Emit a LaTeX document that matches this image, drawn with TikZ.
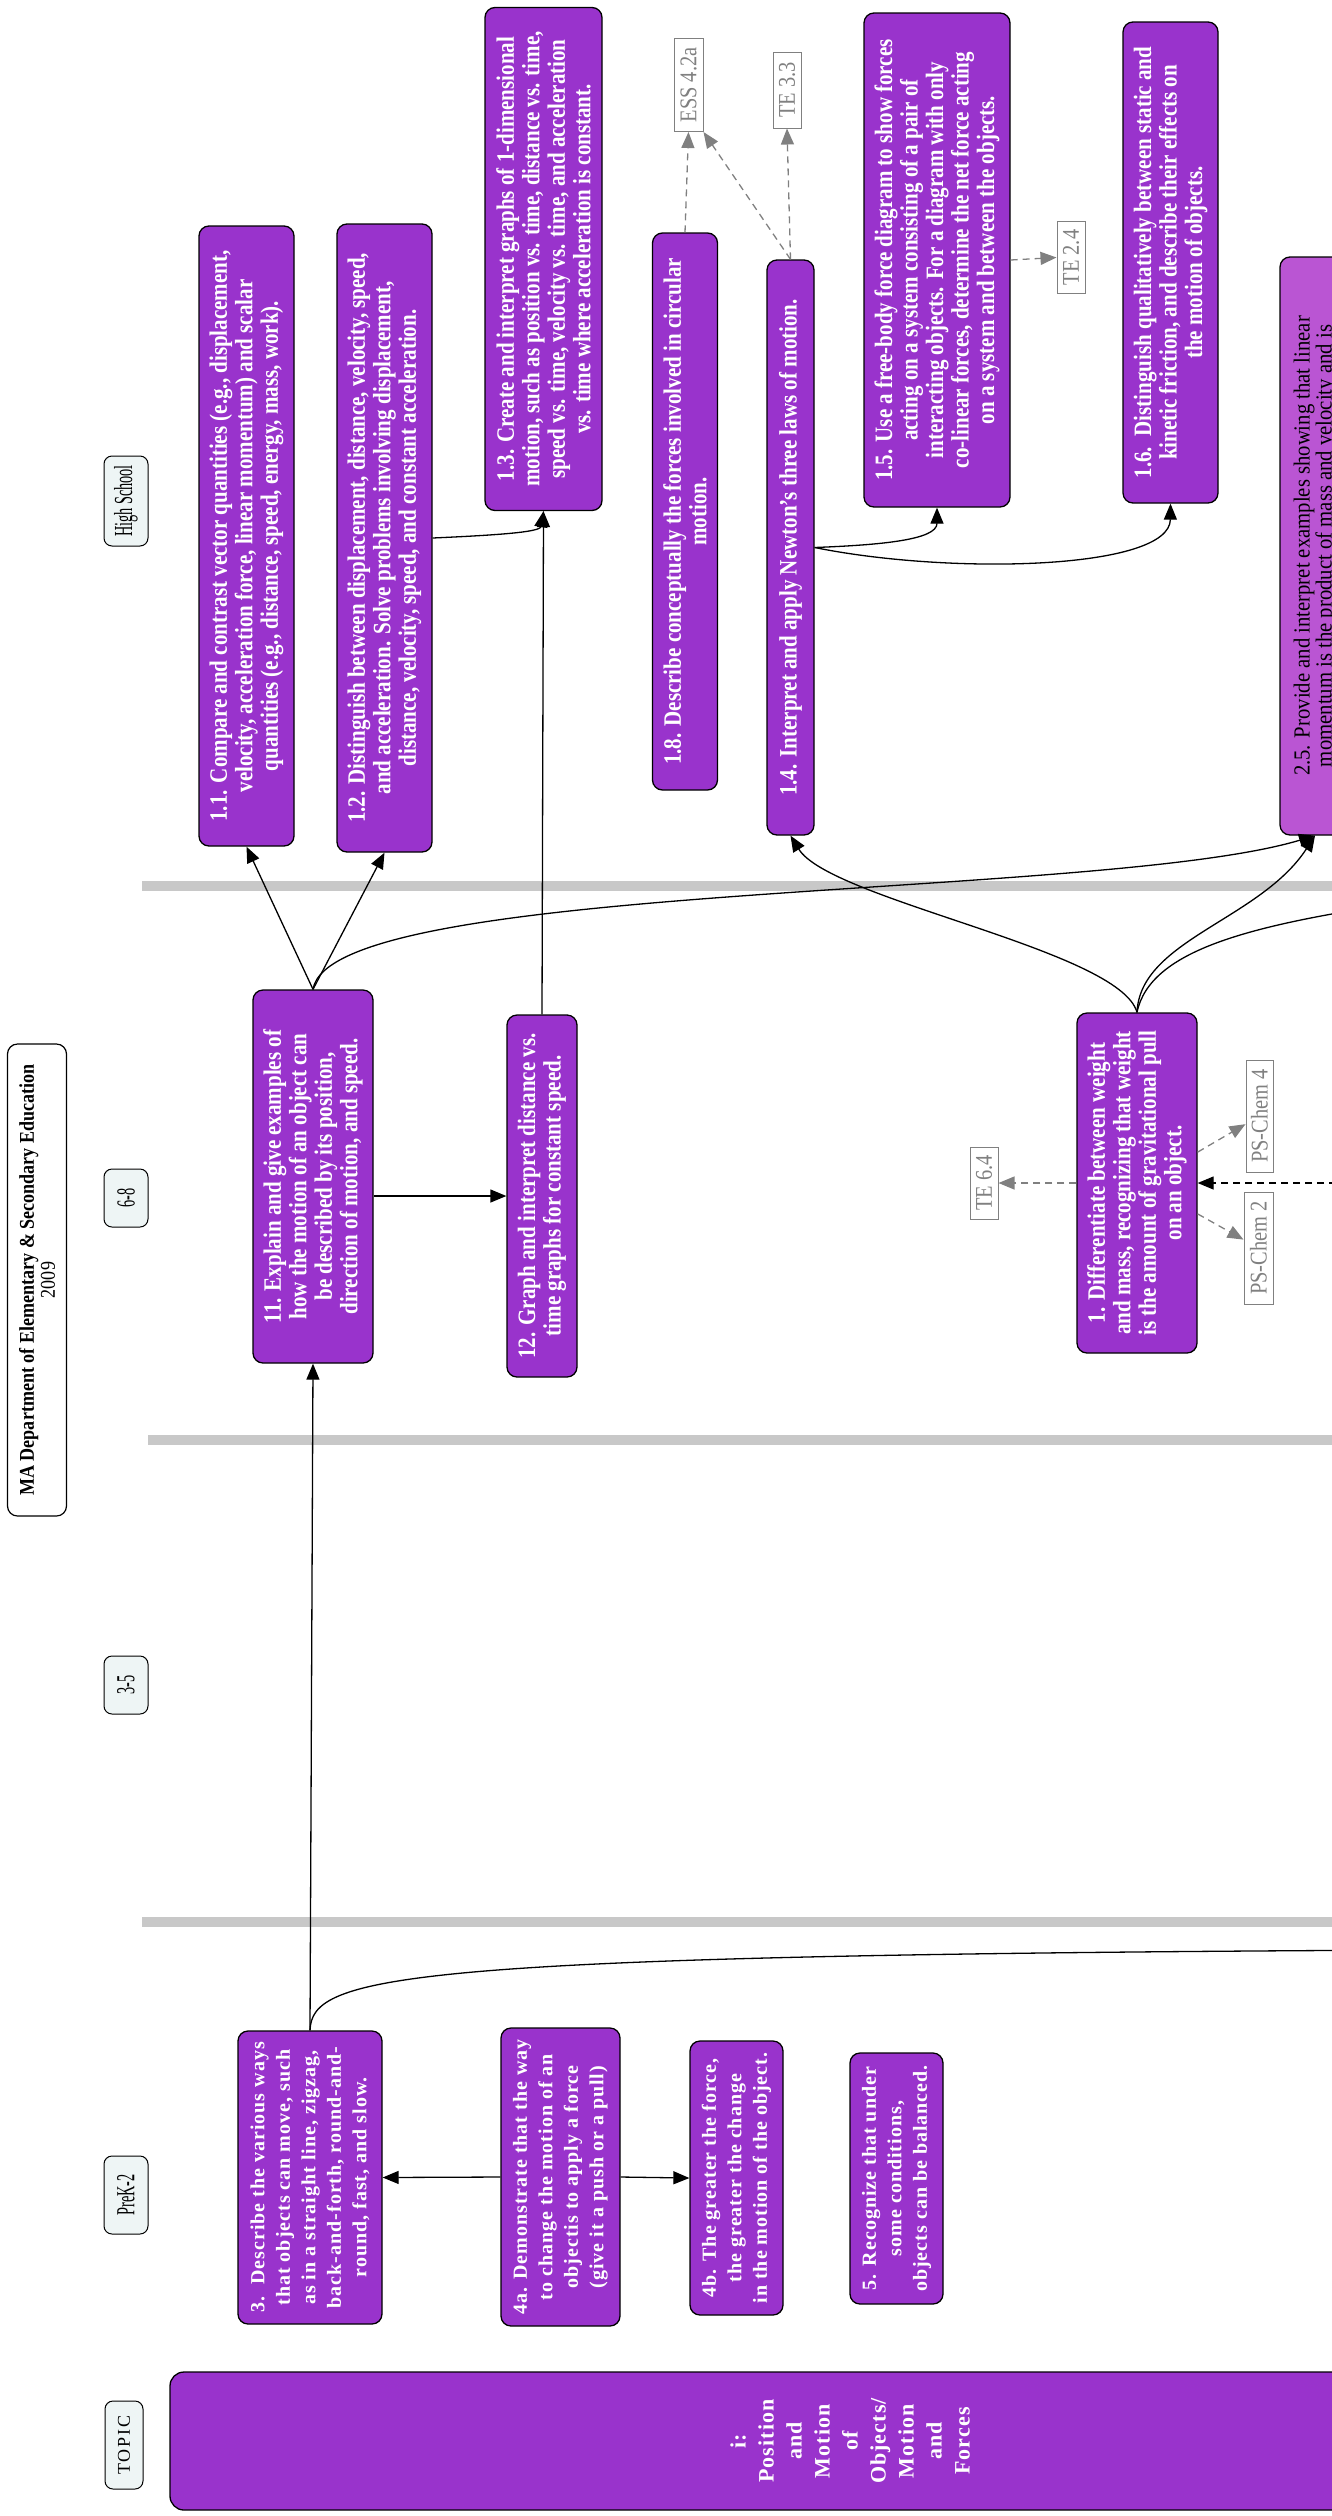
\documentclass[tikz,border=0pt]{standalone}
\usepackage{fontspec}
\setmainfont{Liberation Serif}
\usepackage{tikz}
\usetikzlibrary{arrows.meta}
\definecolor{boxpurple}{HTML}{9933CC}
\definecolor{lightpurple}{HTML}{BA55D3}
\definecolor{refgray}{HTML}{808080}
\definecolor{bargray}{HTML}{C8C8C8}
\definecolor{gradefill}{HTML}{EEF5F5}

\begin{document}
\begin{tikzpicture}[x=1pt,y=-1pt,
  >={Triangle[length=16pt,width=13pt]},
  stdbox/.style={draw=black,line width=1.3pt,fill=boxpurple,rounded corners=10pt,rotate=90,
    text=white,align=center,inner sep=0pt,
    font=\fontsize{25}{25.5}\selectfont\bfseries\addfontfeature{FakeStretch=0.84}},
  kbox/.style={stdbox,font=\fontsize{20}{25.5}\selectfont\bfseries\addfontfeature{LetterSpace=5}},
  refbox/.style={draw=refgray,line width=1pt,fill=white,text=refgray,rotate=90,inner sep=0pt,
    font=\fontsize{24}{24}\selectfont\addfontfeature{FakeStretch=0.85}},
  gradebox/.style={draw=black,line width=1pt,fill=gradefill,rounded corners=8pt,rotate=90,
    inner sep=0pt,font=\fontsize{26}{26}\selectfont\addfontfeature{FakeStretch=0.55}},
  link/.style={->,line width=1.3pt},
  reflink/.style={->,refgray,line width=1.3pt,dash pattern=on 7pt off 5pt},
  xlink/.style={->,black,line width=1.3pt,dash pattern=on 7pt off 5pt},
  band/.style={line width=10pt,bargray}]
\useasboundingbox (0,0) rectangle (1331,2516);

% grade bands
\draw[band] (142,886) -- (1340,886);
\draw[band] (148,1440) -- (1340,1440);
\draw[band] (142,1922) -- (1340,1922);

% title and grade labels
\node[draw=black,line width=1.2pt,fill=white,rounded corners=10pt,rotate=90,align=center,inner sep=0pt,
  minimum width=472pt,minimum height=59pt,
  font=\fontsize{21}{21}\selectfont\addfontfeature{FakeStretch=0.86}] (H) at (37,1280)
  {\textbf{MA Department of Elementary \& Secondary Education}\\2009};
\node[gradebox,minimum width=90pt,minimum height=44pt] (GHS) at (126,501) {High School};
\node[gradebox,minimum width=58pt,minimum height=44pt] (G68) at (126,1198) {6-8};
\node[gradebox,minimum width=58pt,minimum height=44pt] (G35) at (126,1685) {3-5};
\node[gradebox,minimum width=78pt,minimum height=44pt] (GK2) at (126,2195) {PreK-2};
\node[gradebox,minimum width=88pt,minimum height=38pt,
  font=\fontsize{18}{20}\selectfont\addfontfeature{LetterSpace=10}] (GT) at (124,2445) {TOPIC};

% topic
\node[stdbox,rounded corners=14pt,minimum width=138pt,minimum height=1360pt,
  font=\fontsize{22}{28}\selectfont\bfseries\addfontfeature{LetterSpace=5}] (T) at (850,2441)
  {i:\\Position\\and\\Motion\\of\\Objects/\\Motion\\and\\Forces};

% high school
\node[stdbox,minimum width=620pt,minimum height=95pt] (B11) at (246.5,536)
  {1.1. Compare and contrast vector quantities (e.g., displacement,\\velocity, acceleration force, linear momentum) and scalar\\quantities (e.g., distance, speed, energy, mass, work).};
\node[stdbox,minimum width=628pt,minimum height=95pt] (B12) at (384.5,538)
  {1.2. Distinguish between displacement, distance, velocity, speed,\\and acceleration. Solve problems involving displacement,\\distance, velocity, speed, and constant acceleration.};
\node[stdbox,minimum width=503pt,minimum height=117pt] (B13) at (543.5,259)
  {1.3. Create and interpret graphs of 1-dimensional\\motion, such as position vs. time, distance vs. time,\\speed vs. time, velocity vs. time, and acceleration\\vs. time where acceleration is constant.};
\node[stdbox,minimum width=557pt,minimum height=65pt] (B18) at (685,511.5)
  {1.8. Describe conceptually the forces involved in circular\\motion.};
\node[stdbox,minimum width=575pt,minimum height=47pt] (B14) at (790.5,547.5)
  {1.4. Interpret and apply Newton’s three laws of motion.};
\node[stdbox,minimum width=494pt,minimum height=146pt] (B15) at (937,260)
  {1.5. Use a free-body force diagram to show forces\\acting on a system consisting of a pair of\\interacting objects. For a diagram with only\\co-linear forces, determine the net force acting\\on a system and between the objects.};
\node[stdbox,minimum width=481pt,minimum height=95pt] (B16) at (1170.5,262.5)
  {1.6.\ \ Distinguish qualitatively between static and\\kinetic friction, and describe their effects on\\the motion of objects.};
\node[stdbox,fill=lightpurple,text=black,minimum width=578pt,minimum height=70pt,
  font=\fontsize{23}{22}\selectfont\addfontfeature{FakeStretch=0.9}] (B25) at (1315,546)
  {2.5. Provide and interpret examples showing that linear\\momentum is the product of mass and velocity and is};

\node[refbox,minimum width=93pt,minimum height=29pt] (RESS) at (688.5,85) {ESS 4.2a};
\node[refbox,minimum width=76pt,minimum height=28pt] (RTE33) at (787,90) {TE 3.3};
\node[refbox,minimum width=72pt,minimum height=28pt] (RTE24) at (1071,257.5) {TE 2.4};

% 6-8
\node[stdbox,minimum width=373pt,minimum height=120pt] (M11) at (313,1176.5)
  {11. Explain and give examples of\\how the motion of an object can\\be described by its position,\\direction of motion, and speed.};
\node[stdbox,minimum width=362pt,minimum height=70pt] (M12) at (542,1196)
  {12. Graph and interpret distance vs.\\time graphs for constant speed.};
\node[stdbox,minimum width=340pt,minimum height=120pt] (M1) at (1137,1183)
  {1. Differentiate between weight\\and mass, recognizing that weight\\is the amount of gravitational pull\\on an object.};

\node[refbox,minimum width=72pt,minimum height=28pt] (RTE64) at (984,1183) {TE 6.4};
\node[refbox,minimum width=112pt,minimum height=27pt] (RPS4) at (1259.5,1116) {PS-Chem 4};
\node[refbox,minimum width=112pt,minimum height=29pt] (RPS2) at (1258.5,1248) {PS-Chem 2};

% preK-2
\node[kbox,minimum width=293pt,minimum height=144pt] (P3) at (310,2177.5)
  {3.\ \ Describe the various ways\\that objects can move, such\\as in a straight line, zigzag,\\back-and-forth, round-and-\\round, fast, and slow.};
\node[kbox,minimum width=298pt,minimum height=119pt] (P4a) at (560.5,2177)
  {4a. Demonstrate that the way\\to change the motion of an\\objectis to apply a force\\(give it a push or a pull)};
\node[kbox,minimum width=274pt,minimum height=93pt] (P4b) at (736.5,2178)
  {4b. The greater the force,\\the greater the change\\in the motion of the object.};
\node[kbox,minimum width=251pt,minimum height=93pt] (P5) at (896.5,2178.5)
  {5. Recognize that under\\some conditions,\\objects can be balanced.};

% ends outside the picture
\coordinate (X1) at (1420,900);
\coordinate (X2) at (1420,1950);
\coordinate (X3) at (1420,1183);

\draw[link] (M11.east) -- (B11.west);
\draw[link] (M11.east) -- (B12.west);
\draw[link] (M11.east) .. controls (330,880) and (1100,900) .. (B25.west);
\draw[link] (M11.south |- M12.north) -- (M12.north);
\draw[link] (M12.east) -- (B13.west);
\draw[link] (B12.south) .. controls (500,535) and (540,532) .. (B13.west);
\draw[link] (B14.south) .. controls (880,545) and (937,540) .. (B15.west);
\draw[link] (B14.south) .. controls (950,575) and (1170,570) .. (B16.west);
\draw[link] (M1.east) .. controls (1120,950) and (830,900) .. (B14.west);
\draw[link] (M1.east) .. controls (1140,940) and (1260,920) .. (B25.west);
\draw[link] (M1.east) .. controls (1150,950) and (1250,925) .. (X1);
\draw[link] (P3.east) -- (M11.west);
\draw[link] (P3.east) .. controls (312,1975) and (400,1955) .. (X2);
\draw[link] (P4a.north) -- (P3.south);
\draw[link] (P4a.south) -- (P4b.north);

\draw[reflink] (B18.east) -- (RESS.west);
\draw[reflink] (B14.east) -- (RESS.south west);
\draw[reflink] (B14.east) -- (RTE33.west);
\draw[reflink] (B15.south) -- (RTE24.north);
\draw[reflink] (M1.north) -- (RTE64.south);
\draw[reflink] (M1.-63) -- (RPS4);
\draw[reflink] (M1.-117) -- (RPS2);
\draw[xlink] (X3) -- (M1.south);
\end{tikzpicture}
\end{document}
